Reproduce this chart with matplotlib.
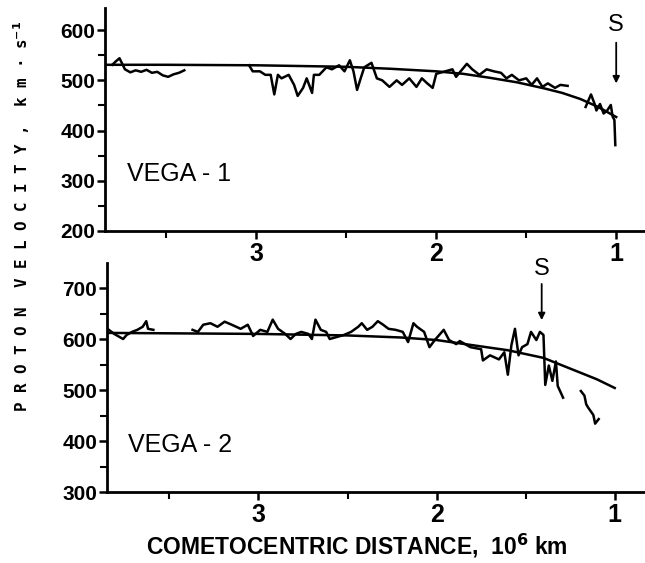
import matplotlib
matplotlib.use('Agg')
import matplotlib.pyplot as plt
from matplotlib.ticker import MultipleLocator

# ---------------- VEGA-1 (top panel)
v1_fit_x = [3.84, 3.5, 3.0, 2.5, 2.25, 2.0, 1.85, 1.7, 1.55, 1.4, 1.3, 1.2, 1.1, 1.0]
v1_fit_y = [531, 531, 530, 527, 523, 518, 513, 505, 496, 484, 475, 463, 447, 427]

v1_a_x = [3.80, 3.78, 3.76, 3.73, 3.70, 3.67, 3.64, 3.61, 3.58, 3.55, 3.52, 3.49, 3.46, 3.43, 3.40]
v1_a_y = [531, 538, 544, 522, 516, 520, 517, 521, 515, 517, 510, 507, 512, 515, 520]

v1_b_x = [3.04, 3.02, 2.98, 2.95, 2.92, 2.90, 2.88, 2.86, 2.82, 2.79, 2.77, 2.74, 2.72,
          2.69, 2.68, 2.65, 2.61, 2.58, 2.54, 2.51, 2.48, 2.46, 2.44, 2.42, 2.40, 2.36,
          2.33, 2.30, 2.26, 2.22, 2.19, 2.15, 2.11, 2.08, 2.05, 2.02, 2.00, 1.95, 1.91,
          1.89, 1.83, 1.80, 1.76, 1.72, 1.68, 1.64, 1.61, 1.58, 1.54, 1.50, 1.47, 1.44,
          1.41, 1.38, 1.34, 1.31, 1.27]
v1_b_y = [530, 518, 518, 511, 511, 472, 511, 504, 511, 491, 469, 485, 504,
          475, 511, 511, 526, 522, 530, 518, 540, 518, 481, 504, 526, 535,
          504, 500, 487, 500, 491, 504, 487, 504, 494, 485, 513, 518, 522,
          507, 533, 522, 511, 522, 518, 515, 504, 511, 500, 504, 491, 504,
          487, 494, 485, 491, 489]

v1_c_x = [1.17, 1.14, 1.12, 1.11, 1.09, 1.07, 1.05, 1.03, 1.02, 1.01, 1.005]
v1_c_y = [447, 472, 453, 440, 453, 434, 440, 451, 428, 421, 371]

# ---------------- VEGA-2 (bottom panel)
v2_fit_x = [3.85, 3.0, 2.5, 2.2, 2.0, 1.8, 1.6, 1.4, 1.2, 1.1, 1.0]
v2_fit_y = [612, 610, 607, 603, 598, 588, 578, 563, 535, 521, 504]

v2_a_x = [3.84, 3.81, 3.76, 3.74, 3.71, 3.68, 3.65, 3.63, 3.62, 3.59]
v2_a_y = [618, 610, 600, 608, 614, 618, 624, 635, 620, 618]

v2_b_x = [3.37, 3.34, 3.31, 3.27, 3.23, 3.19, 3.15, 3.10, 3.06, 3.03, 2.99, 2.95, 2.92,
          2.89, 2.85, 2.82, 2.79, 2.76, 2.72, 2.70, 2.68, 2.65, 2.62, 2.60, 2.56, 2.52,
          2.48, 2.44, 2.42, 2.39, 2.36, 2.33, 2.30, 2.27, 2.23, 2.19, 2.16, 2.13, 2.11,
          2.07, 2.04, 2.01, 1.96, 1.93, 1.89, 1.87, 1.81, 1.75, 1.74, 1.70, 1.65, 1.62,
          1.60, 1.58, 1.56, 1.54, 1.52, 1.49, 1.47, 1.44, 1.42, 1.40, 1.39, 1.37, 1.35,
          1.33, 1.32, 1.29]
v2_b_y = [618, 614, 628, 631, 624, 634, 628, 620, 628, 606, 618, 614, 638,
          620, 610, 600, 610, 614, 610, 600, 638, 618, 614, 600, 604, 608,
          614, 624, 631, 618, 624, 635, 628, 620, 618, 614, 594, 631, 624,
          614, 584, 598, 618, 598, 590, 596, 584, 580, 558, 568, 560, 574,
          530, 588, 620, 568, 584, 590, 614, 598, 614, 608, 510, 548, 518,
          556, 508, 485]

v2_c_x = [1.19, 1.17, 1.16, 1.15, 1.12, 1.11, 1.09]
v2_c_y = [498, 489, 472, 466, 451, 434, 443]

xtick_major = [3, 2, 1]
xtick_minor = [3.5, 2.5, 1.5]

plt.rcParams['font.family'] = ['Liberation Sans', 'DejaVu Sans']

fig = plt.figure(figsize=(6.45, 5.63), dpi=100)
axTop = fig.add_axes([0.163, 0.5897, 0.837, 0.396])
axBot = fig.add_axes([0.166, 0.1261, 0.834, 0.4067])

lineWidth = 1.8
axTop.plot(v1_fit_x, v1_fit_y, color='black', linewidth=lineWidth)
for xs, ys in [(v1_a_x, v1_a_y), (v1_b_x, v1_b_y), (v1_c_x, v1_c_y)]:
    axTop.plot(xs, ys, color='black', linewidth=lineWidth)

axBot.plot(v2_fit_x, v2_fit_y, color='black', linewidth=lineWidth)
for xs, ys in [(v2_a_x, v2_a_y), (v2_b_x, v2_b_y), (v2_c_x, v2_c_y)]:
    axBot.plot(xs, ys, color='black', linewidth=lineWidth)

axTop.set_xlim(3.84, 0.84)
axTop.set_ylim(200, 644)
axBot.set_xlim(3.85, 0.83)
axBot.set_ylim(300, 749)

for ax in [axTop, axBot]:
    ax.spines['top'].set_visible(False)
    ax.spines['right'].set_visible(False)
    ax.spines['left'].set_linewidth(2)
    ax.spines['bottom'].set_linewidth(2)
    ax.set_xticks(xtick_major)
    ax.set_xticks(xtick_minor, minor=True)
    ax.set_xticklabels([str(t) for t in xtick_major])
    ax.yaxis.set_major_locator(MultipleLocator(100))
    ax.yaxis.set_minor_locator(MultipleLocator(50))
    ax.tick_params(axis='both', which='major', direction='out', length=6, width=1.8)
    ax.tick_params(axis='both', which='minor', direction='out', length=5, width=1.5)
    ax.tick_params(axis='y', labelsize=15, pad=1)
    ax.tick_params(axis='x', labelsize=18, pad=2)
    for lab in ax.get_xticklabels() + ax.get_yticklabels():
        lab.set_fontweight('bold')

axTop.set_yticks([200, 300, 400, 500, 600])
axBot.set_yticks([300, 400, 500, 600, 700])

axTop.text(3.72, 314, 'VEGA - 1', fontsize=18, va='center', ha='left')
axBot.text(3.73, 392, 'VEGA - 2', fontsize=18, va='center', ha='left')

# shock markers
axTop.annotate('', xy=(1.0, 494), xytext=(1.0, 575),
               arrowprops=dict(arrowstyle='-|>', color='black', lw=1.3,
                               mutation_scale=10, shrinkA=0, shrinkB=0))
axTop.text(1.0, 610, 'S', fontsize=17, ha='center', va='center')
axBot.annotate('', xy=(1.41, 637), xytext=(1.41, 708),
               arrowprops=dict(arrowstyle='-|>', color='black', lw=1.3,
                               mutation_scale=10, shrinkA=0, shrinkB=0))
axBot.text(1.41, 738, 'S', fontsize=17, ha='center', va='center')

fig.text(0.553, 0.03, 'COMETOCENTRIC DISTANCE,  10$^{\\mathbf{6}}$ km',
         fontsize=16.5, fontweight='bold', ha='center', va='center')
fig.text(0.034, 0.616,
         'P R O T O N  V E L O C I T Y ,  k m · s$^{\\mathbf{-1}}$',
         family='DejaVu Sans Mono', fontsize=11.4, fontweight='bold',
         rotation=90, ha='center', va='center')

fig.savefig('out.png', dpi=100)
